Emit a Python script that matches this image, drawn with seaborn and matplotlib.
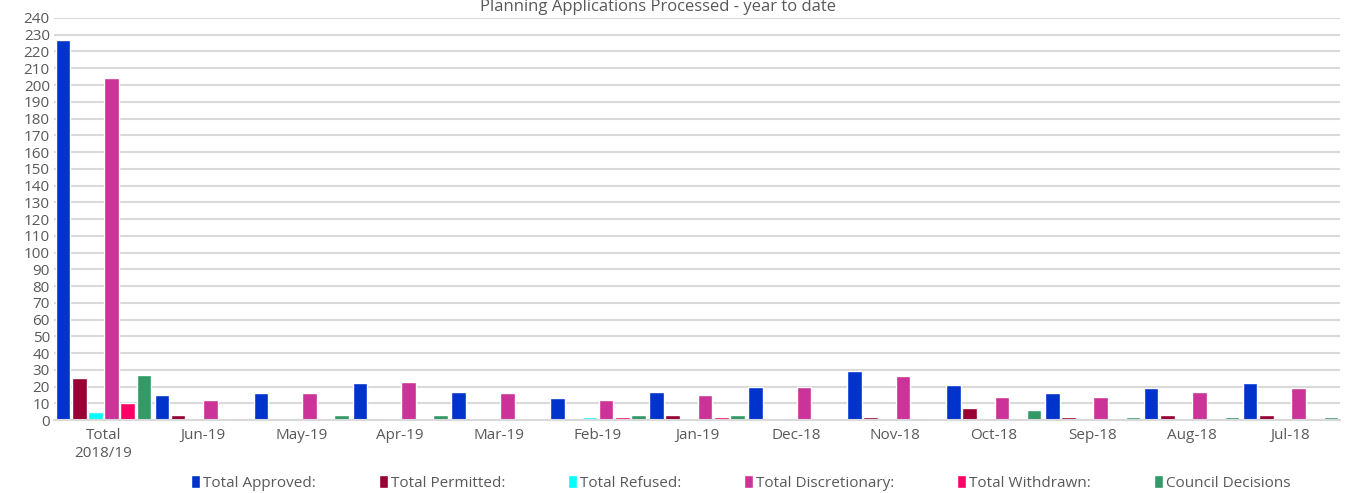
import pandas as pd
import matplotlib
matplotlib.use("Agg")
import matplotlib.pyplot as plt
import seaborn as sns

# Categories and series
months = ['Total\n2018/19', 'Jun-19', 'May-19', 'Apr-19', 'Mar-19', 'Feb-19', 'Jan-19',
          'Dec-18', 'Nov-18', 'Oct-18', 'Sep-18', 'Aug-18', 'Jul-18']
approved = [227, 15, 16, 22, 17, 13, 17, 20, 29, 21, 16, 19, 22]
permitted = [25, 3, 0, 0, 1, 0, 3, 1, 2, 7, 2, 3, 3]
refused = [5, 0, 0, 1, 0, 2, 1, 0, 0, 0, 0, 1, 0]
discretionary = [204, 12, 16, 23, 16, 12, 15, 20, 26, 14, 14, 17, 19]
withdrawn = [10, 1, 1, 1, 1, 2, 2, 1, 0, 0, 1, 0, 0]
council = [27, 0, 3, 3, 1, 3, 3, 1, 1, 6, 2, 2, 2]

series = ['Total Approved:', 'Total Permitted:', 'Total Refused:',
          'Total Discretionary:', 'Total Withdrawn:', 'Council Decisions']
colors = ['#0033CC', '#990033', '#00FFFF', '#CC3399', '#FF0066', '#339966']

df = pd.DataFrame({'Month': months,
                   series[0]: approved, series[1]: permitted, series[2]: refused,
                   series[3]: discretionary, series[4]: withdrawn, series[5]: council})
long = df.melt(id_vars='Month', var_name='Series', value_name='Count')

sns.set_style('white')
plt.rcParams['font.family'] = ['Open Sans', 'DejaVu Sans']
grey = '#595959'

fig = plt.figure(figsize=(13.47, 4.93), dpi=100)
ax = fig.add_axes([0.0401, 0.148, 0.9547, 0.8155])

sns.barplot(data=long, x='Month', y='Count', hue='Series', hue_order=series,
            order=months, palette=colors, width=0.98, gap=0.1, ax=ax,
            saturation=1, errorbar=None)

ax.set_ylim(0, 240)
ax.set_yticks(range(0, 241, 10))
ax.set_xlim(-0.5, len(months) - 0.5)
ax.yaxis.grid(True, color='#D9D9D9', linewidth=1.5)
ax.set_axisbelow(True)
for s in ['top', 'right', 'left']:
    ax.spines[s].set_visible(False)
ax.spines['bottom'].set_color('#D9D9D9')
ax.spines['bottom'].set_linewidth(1.5)
ax.tick_params(axis='both', length=0, labelsize=11, colors=grey, pad=6)
ax.tick_params(axis='y', pad=3)
ax.set_xlabel('')
ax.set_ylabel('')

# title sits right at the top edge, as in the original
fig.text(0.4885, 0.978, 'Planning Applications Processed - year to date',
         ha='center', va='baseline', fontsize=12, color=grey)

sns.move_legend(ax, 'center', bbox_to_anchor=(0.550, 0.02), bbox_transform=fig.transFigure,
                ncol=6, frameon=False, title=None, fontsize=11, handlelength=0.6,
                handleheight=0.9, handletextpad=0.2, columnspacing=4.1, labelcolor=grey)

fig.savefig('out.png', dpi=100)
